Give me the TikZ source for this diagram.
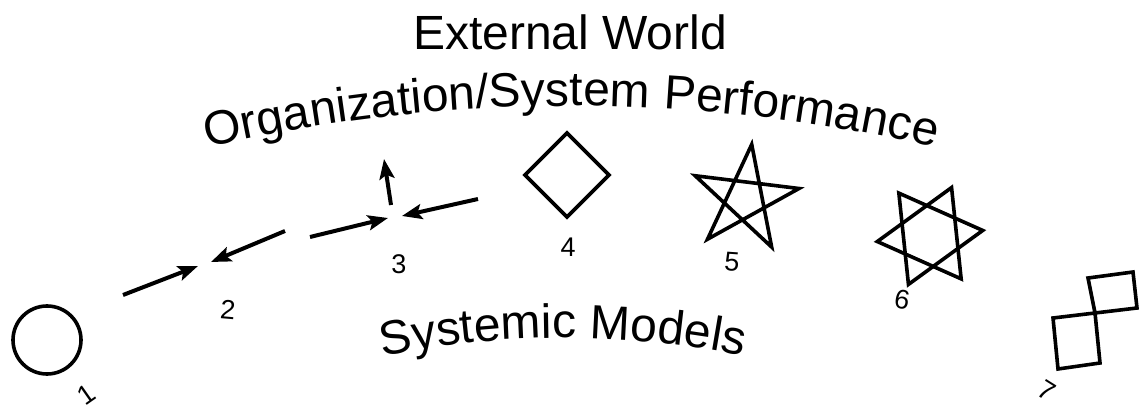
\documentclass[tikz,border=0pt]{standalone}
\usepackage{fontspec}
\setmainfont{Liberation Sans}
\usetikzlibrary{arrows.meta,decorations.text,shapes.geometric}
\newcommand\bigtxt{\fontsize{48}{56}\selectfont}
\newcommand\numtxt{\fontsize{27}{30}\selectfont}
\begin{document}
\begin{tikzpicture}[x=1pt,y=1pt,
  shapeline/.style={line width=3.6pt, line join=miter},
  arr/.style={line width=4pt, -{Stealth[length=20pt,width=15pt,inset=4pt]}},
  num/.style={font=\numtxt, inner sep=0pt}]
\useasboundingbox (0,0) rectangle (1139,412);

% titles
\node[font=\bigtxt, anchor=base, inner sep=0pt] (ext) at (570,362) {External World};
\path[decorate, decoration={text along path, text align={center},
   text={|\bigtxt|Organization/System Performance}}]
   (571,-1314) ++(105:1620pt) arc[start angle=105, end angle=75, radius=1620pt];
\path[decorate, decoration={text along path, text align={center},
   text={|\bigtxt|Systemic Models}}]
   (563,-826) ++(105:900pt) arc[start angle=105, end angle=75, radius=900pt];

% 1 circle
\node[circle, draw, shapeline, minimum size=68pt, inner sep=0pt] (c1) at (47,72) {};
\node[num, rotate=35] (n1) at (86,17) {1};

% 2, 3 arrows
\coordinate (a1s) at (123,117); \coordinate (a1e) at (198,146);
\coordinate (a2s) at (285,181); \coordinate (a2e) at (211,150);
\coordinate (a3s) at (310,175); \coordinate (a3e) at (388,194);
\coordinate (a4s) at (478,213); \coordinate (a4e) at (402,196);
\coordinate (a5s) at (391,207); \coordinate (a5e) at (384,253);
\draw[arr] (a1s) -- (a1e);
\draw[arr] (a2s) -- (a2e);
\draw[arr] (a3s) -- (a3e);
\draw[arr] (a4s) -- (a4e);
\draw[arr] (a5s) -- (a5e);
\node[num, rotate=-5] (n2) at (228,102) {2};
\node[num] (n3) at (399,148) {3};

% 4 diamond
\draw[shapeline] (567,279) -- (609,237) -- (567,195) -- (525,237) -- cycle;
\node[num] (n4) at (568,165) {4};

% 5 pentagram
\draw[shapeline] (745+55*cos 83, 213+55*sin 83)
   -- (745+55*cos 227, 213+55*sin 227)
   -- (745+55*cos 11, 213+55*sin 11)
   -- (745+55*cos 155, 213+55*sin 155)
   -- (745+55*cos 299, 213+55*sin 299) -- cycle;
\node[num, rotate=-4] (n5) at (732,150) {5};

% 6 hexagram
\draw[shapeline] (930+53*cos 6, 176+53*sin 6)
   -- (930+53*cos 126, 176+53*sin 126)
   -- (930+53*cos 246, 176+53*sin 246) -- cycle;
\draw[shapeline] (930+53*cos 66, 176+53*sin 66)
   -- (930+53*cos 186, 176+53*sin 186)
   -- (930+53*cos 306, 176+53*sin 306) -- cycle;
\node[num, rotate=-10] (n6) at (902,112) {6};

% 7 squares
\draw[shapeline] (1053,94) -- (1095,99) -- (1100,49) -- (1058,43) -- cycle;
\draw[shapeline] (1088,134) -- (1133,140) -- (1137,104) -- (1095,99) -- cycle;
\node[num, rotate=-32] (n7) at (1047,21) {7};
\end{tikzpicture}
\end{document}
